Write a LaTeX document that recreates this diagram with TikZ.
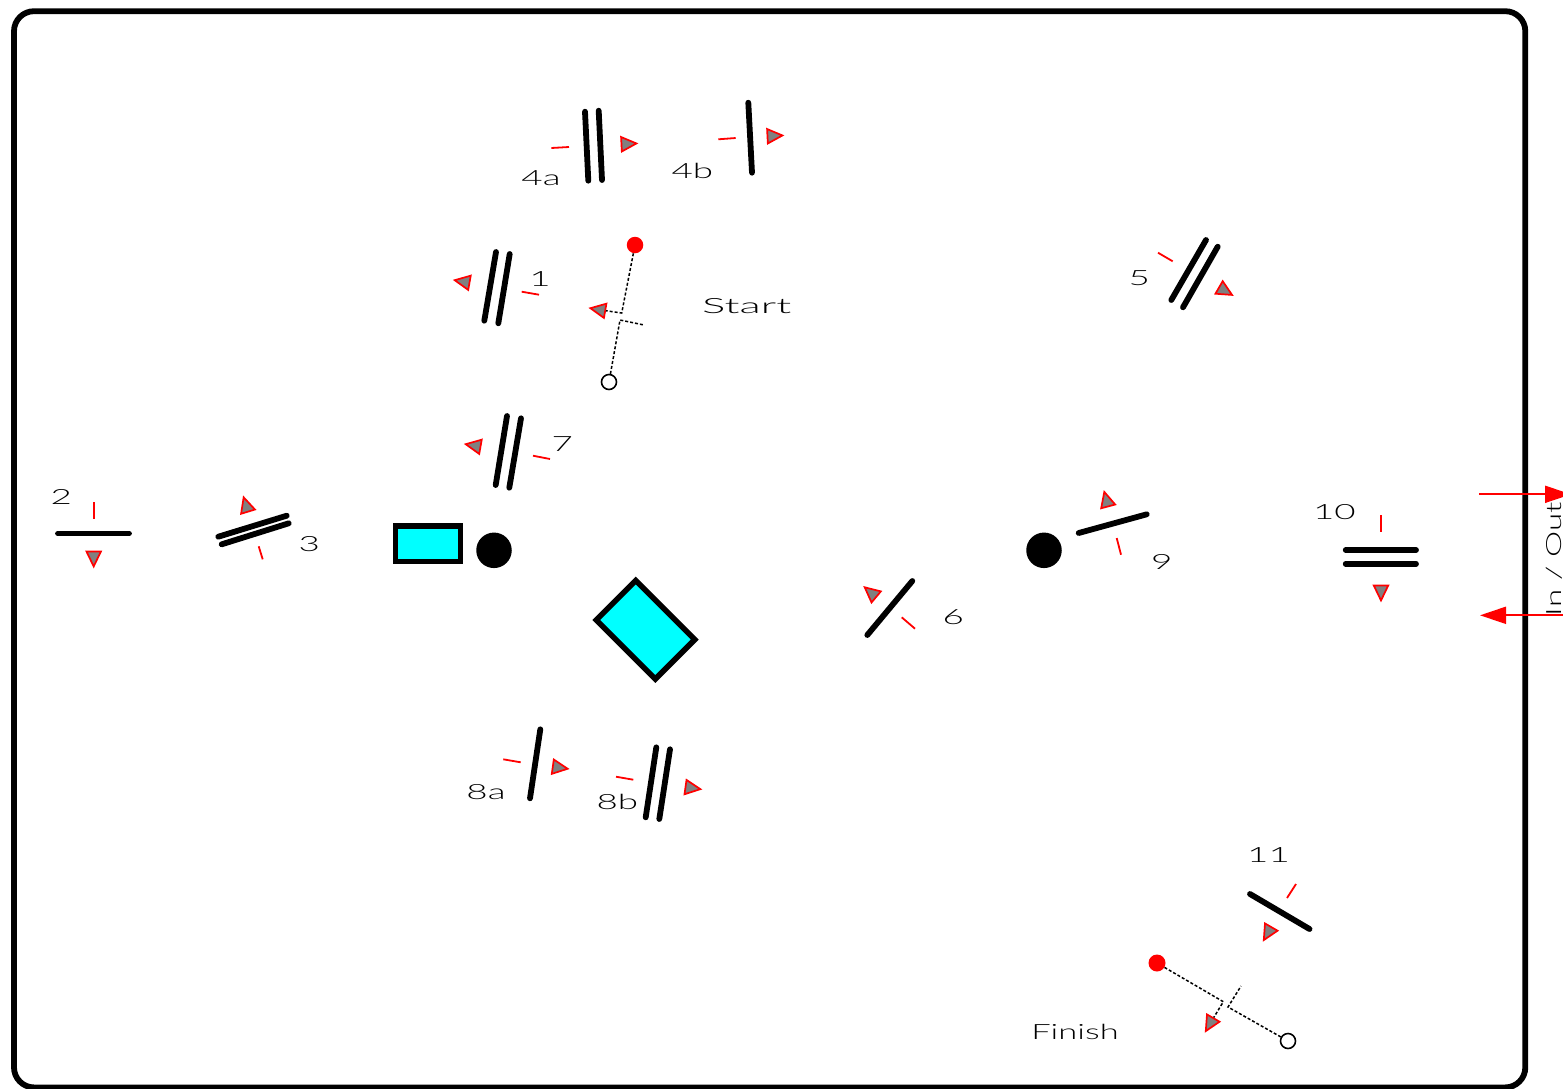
\documentclass[tikz,border=0pt]{standalone}
\usepackage{fontspec}
\setmainfont[FakeStretch=1.75]{Lato Light}
\usetikzlibrary{positioning,arrows.meta,shapes.geometric}
\definecolor{beamred}{HTML}{FF0000}
\definecolor{crystal}{HTML}{00FFFF}
\newcommand{\wider}[2]{\scalebox{#1}[1]{#2}}
\tikzset{
  mirror/.style={line width=5.8pt,line cap=round,black},
  redtick/.style={line width=1.8pt,beamred},
  pointer/.style={isosceles triangle,isosceles triangle stretches,draw=beamred,fill=gray,line width=1.7pt,minimum width=14.5pt,minimum height=15pt,inner sep=0pt,rotate=#1},
  beam/.style={line width=1.5pt,dash pattern=on 3pt off 2pt},
  lbl/.style={font=\fontsize{21pt}{21pt}\selectfont,inner sep=0pt,text=black},
  pump/.style={circle,fill=black,minimum size=35.5pt,inner sep=0pt},
  crystalbox/.style={rectangle,draw=black,fill=crystal,line width=5.5pt,inner sep=0pt},
  io/.style={line width=2pt,beamred,-{Triangle[length=26pt,width=17pt]}}
}
\begin{document}
\begin{tikzpicture}[x=1pt,y=-1pt]
  \useasboundingbox (0,0) rectangle (1563,1088);
  \draw[line width=5.8pt,rounded corners=20pt] (14,11.2) rectangle (1525.3,1087.4);
  % laser head and pump spots
  \node[crystalbox,minimum width=64.6pt,minimum height=35.7pt] (rod) at (428,543.8) {};
  \node[pump] (spota) at (494,550.3) {};
  \node[pump] (spotb) at (1044,550.3) {};
  \node[crystalbox,minimum width=83.5pt,minimum height=55.8pt,rotate=-45] (slab) at (645.5,629.8) {};
  % mirrors 1 to 3
  \draw[mirror] (496,252) -- (484.3,320.7);
  \draw[mirror] (509.7,254) -- (498.3,323.3);
  \draw[redtick] (521.7,291.7) -- (539,294.7);
  \node[pointer=170] (tri1) at (465,282) {};
  \node[lbl] (lab1) at (540,279.3) {1};
  \draw[mirror] (58,533.5) -- (129,533.5);
  \draw[redtick] (94,502) -- (94,519);
  \node[pointer=-90] (tri2) at (93.7,556) {};
  \node[lbl] (lab2) at (61.3,497.3) {2};
  \draw[mirror] (218.3,536.7) -- (286.7,515.7);
  \draw[mirror] (221.7,544.3) -- (288.7,523.3);
  \draw[redtick] (258.7,546.3) -- (262.7,559.3);
  \node[pointer=107] (tri3) at (246.7,507.3) {};
  \node[lbl] (lab3) at (309.3,544.3) {3};
  % mirrors 4a and 4b
  \draw[mirror] (585,111.7) -- (588.3,180.7);
  \draw[mirror] (598.7,110.7) -- (602,180);
  \draw[redtick] (551.3,148) -- (569,147);
  \node[pointer=3] (tri4a) at (626,144) {};
  \node[lbl] (lab4a) at (541,178.3) {4a};
  \draw[mirror] (748.3,102.7) -- (752,172.7);
  \draw[redtick] (718.3,139.3) -- (735.7,138);
  \node[pointer=3] (tri4b) at (772,136) {};
  \node[lbl] (lab4b) at (692.3,171) {4b};
  % mirrors 5 to 7
  \draw[mirror] (1206,240) -- (1171.3,300);
  \draw[mirror] (1217.7,246.7) -- (1183,307.3);
  \draw[redtick] (1158,252.7) -- (1172.7,261.3);
  \node[pointer=-30] (tri5) at (1223,289.7) {};
  \node[lbl] (lab5) at (1139.3,278.3) {5};
  \draw[mirror] (912.3,581) -- (867.3,635);
  \draw[redtick] (901.7,617.3) -- (915,628.7);
  \node[pointer=140] (tri6) at (872.7,594) {};
  \node[lbl] (lab6) at (953.3,616.7) {6};
  \draw[mirror] (507,416) -- (495.7,485);
  \draw[mirror] (521,418.3) -- (509.3,487.7);
  \draw[redtick] (533,455.7) -- (550,459);
  \node[pointer=170] (tri7) at (476,446) {};
  \node[lbl] (lab7) at (562.3,443.7) {7};
  % mirrors 8a and 8b
  \draw[mirror] (540.3,729.3) -- (530,798.3);
  \draw[redtick] (503.3,759.3) -- (520.7,762.3);
  \node[pointer=-8] (tri8a) at (557.3,767.3) {};
  \node[lbl] (lab8a) at (486,792.3) {8a};
  \draw[mirror] (656.3,747.3) -- (645.7,817.3);
  \draw[mirror] (670,749.3) -- (659.3,819);
  \draw[redtick] (616,776.7) -- (633.3,779.7);
  \node[pointer=-8] (tri8b) at (690,787.7) {};
  \node[lbl] (lab8b) at (617.3,802.3) {8b};
  % mirrors 9 to 11
  \draw[mirror] (1078.7,533) -- (1146.7,514.3);
  \draw[redtick] (1116.7,538) -- (1121,554.7);
  \node[pointer=105] (tri9) at (1107,502) {};
  \node[lbl] (lab9) at (1161.7,561.7) {9};
  \draw[mirror] (1345.7,550) -- (1416,550);
  \draw[mirror] (1345.7,563.7) -- (1416,563.7);
  \draw[redtick] (1380.7,515) -- (1380.7,532);
  \node[pointer=-90] (tri10) at (1381,590) {};
  \node[lbl] (lab10) at (1334.3,511.7) {10};
  \draw[mirror] (1250,894) -- (1309.5,929);
  \draw[redtick] (1296,884) -- (1287,898);
  \node[pointer=-120] (tri11) at (1269,931) {};
  \node[lbl] (lab11) at (1268.5,855) {11};
  % start of the alignment beam
  \node[circle,fill=beamred,minimum size=16.5pt,inner sep=0pt] (startdot) at (635,245) {};
  \node[circle,draw=black,fill=white,line width=1.6pt,minimum size=15pt,inner sep=0pt] (startring) at (609,382) {};
  \node[pointer=170] (startarrow) at (600.7,310) {};
  \coordinate (startturn) at (621.7,313);
  \coordinate (startback) at (620,320);
  \coordinate (startend) at (644,325);
  \draw[beam] (startdot) -- (startturn) -- (startarrow);
  \draw[beam] (startring) -- (startback) -- (startend);
  \node[lbl] (startlab) at (746.7,306) {\wider{1.19}{Start}};
  % end of the alignment beam
  \node[circle,fill=beamred,minimum size=17pt,inner sep=0pt] (finishdot) at (1157,963) {};
  \node[circle,draw=black,fill=white,line width=1.6pt,minimum size=15pt,inner sep=0pt] (finishring) at (1288,1041) {};
  \node[pointer=-120] (finisharrow) at (1211,1022) {};
  \coordinate (finishturn) at (1223.3,1001.7);
  \coordinate (finishback) at (1228,1007);
  \coordinate (finishend) at (1241,986);
  \draw[beam] (finishdot) -- (finishturn) -- (finisharrow);
  \draw[beam] (finishring) -- (finishback) -- (finishend);
  \node[lbl] (finishlab) at (1075,1032) {\wider{0.94}{Finish}};
  % in and out
  \coordinate (inright) at (1571,615.3);
  \coordinate (inleft) at (1480,615.3);
  \coordinate (outleft) at (1479,494.3);
  \coordinate (outright) at (1571,494.3);
  \draw[io] (outleft) -- (outright);
  \draw[io] (inright) -- (inleft);
  \node[lbl,rotate=90,anchor=base] (iolab) at (1561,559) {\wider{0.9}{In / Out}};
\end{tikzpicture}
\end{document}
